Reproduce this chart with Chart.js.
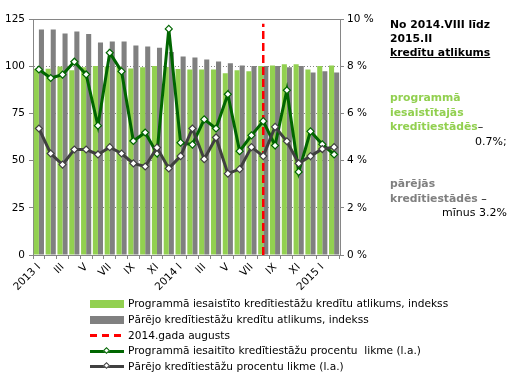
<!DOCTYPE html>
<html>
<head>
<meta charset="utf-8">
<script src="https://cdn.jsdelivr.net/npm/chart.js@4/dist/chart.umd.min.js"></script>
<style>
  html,body{margin:0;padding:0;background:#fff;}
  #wrap{position:relative;width:525px;height:379px;overflow:hidden;}
  #c{position:absolute;left:0;top:0;}
  #legend{position:absolute;left:90px;top:296px;font-family:"DejaVu Sans",sans-serif;font-size:10.6px;color:#000;}
  .row{height:15.75px;line-height:15.75px;white-space:pre;display:flex;align-items:center;}
  .sw{position:relative;width:34px;height:15px;margin-right:4px;flex:none;}
  .sw .bar{position:absolute;left:0;top:3.5px;width:34px;height:8px;}
  .sw .dash{position:absolute;left:0;top:6.5px;width:34px;height:2.5px;background:repeating-linear-gradient(to right,#FF0000 0 7px,transparent 7px 12px);}
  .sw .ln{position:absolute;left:0;top:6px;width:34px;height:3px;}
  .sw .dm{position:absolute;left:14px;top:4px;width:5px;height:5px;background:#fff;transform:rotate(45deg);box-sizing:border-box;border:1px solid;}
  .note{position:absolute;font-family:"DejaVu Sans",sans-serif;white-space:pre;line-height:14px;}
  .b{font-weight:bold;font-size:10.8px;}
  .r{font-size:11px;}
</style>
</head>
<body>
<div id="wrap">
  <canvas id="c" width="525" height="379"></canvas>
  <div id="legend"></div>
  <div class="note b" style="left:390px;top:18px;color:#000;">No 2014.VIII līdz</div>
  <div class="note b" style="left:390px;top:32px;color:#000;">2015.II</div>
  <div class="note b" style="left:390px;top:46px;color:#000;text-decoration:underline;">kredītu atlikums</div>
  <div class="note b" style="left:390px;top:91px;color:#92D050;">programmā</div>
  <div class="note b" style="left:390px;top:105.5px;color:#92D050;">iesaistītajās</div>
  <div class="note b" style="left:390px;top:120px;color:#92D050;">kredītiestādēs<span class="r" style="color:#000;font-weight:normal;">–</span></div>
  <div class="note r" style="left:475px;top:135px;color:#000;">0.7%;</div>
  <div class="note b" style="left:390px;top:177px;color:#808080;">pārējās</div>
  <div class="note b" style="left:390px;top:192px;color:#808080;">kredītiestādēs<span class="r" style="color:#000;font-weight:normal;"> –</span></div>
  <div class="note r" style="left:442px;top:206px;color:#000;">mīnus 3.2%</div>
</div>
<script>
// ---- data ----
const categories = [
  '2013 I','2013 II','2013 III','2013 IV','2013 V','2013 VI','2013 VII','2013 VIII','2013 IX','2013 X','2013 XI','2013 XII',
  '2014 I','2014 II','2014 III','2014 IV','2014 V','2014 VI','2014 VII','2014 VIII','2014 IX','2014 X','2014 XI','2014 XII',
  '2015 I','2015 II'
];
const tickLabels = [
  '2013 I','','III','','V','','VII','','IX','','XI','',
  '2014 I','','III','','V','','VII','','IX','','XI','',
  '2015 I',''
];
const programmeBalance = [98.7, 98.7, 99.9, 97.8, 99.5, 100.1, 99.9, 99.8, 98.8, 99.4, 100.1, 99.6,
                          98.5, 98.3, 98.3, 98.3, 96.2, 97.8, 97.3, 100.1, 100.4, 101.0, 101.0, 98.3,
                          100.1, 100.4];
const otherBalance = [119.4, 119.4, 117.3, 118.4, 117.0, 112.6, 113.1, 113.1, 111.0, 110.5, 109.8, 107.5,
                      105.2, 104.6, 103.6, 102.5, 101.5, 100.4, 100.1, 100.1, 100.1, 99.4, 100.1, 96.7,
                      97.3, 96.7];
const programmeRate = [7.86, 7.50, 7.64, 8.19, 7.65, 5.48, 8.57, 7.78, 4.83, 5.19, 4.30, 9.58,
                       4.76, 4.68, 5.75, 5.36, 6.81, 4.40, 5.07, 5.67, 4.64, 6.98, 3.52, 5.24,
                       4.69, 4.26];
const otherRate = [5.36, 4.30, 3.83, 4.47, 4.47, 4.26, 4.57, 4.30, 3.88, 3.75, 4.55, 3.67,
                   4.19, 5.36, 4.06, 4.98, 3.45, 3.64, 4.57, 4.19, 5.43, 4.82, 3.88, 4.19,
                   4.49, 4.57];
const markerMonth = '2014 VIII';
const markerRange = [0, 122.5];
const leftAxis = {min: 0, max: 125, step: 25};
const rightAxis = {min: 0, max: 10, step: 2};

const seriesNames = [
  'Programmā iesaistīto kredītiestāžu kredītu atlikums, indekss',
  'Pārējo kredītiestāžu kredītu atlikums, indekss',
  '2014.gada augusts',
  'Programmā iesaitīto kredītiestāžu procentu  likme (l.a.)',
  'Pārējo kredītiestāžu procentu likme (l.a.)'
];

const GREEN_BAR = '#92D050', GRAY_BAR = '#808080', RED = '#FF0000', GREEN_LINE = '#006600', GRAY_LINE = '#404040';
const AXIS = '#868686';
const tickFont = {family: 'DejaVu Sans', size: 10.5};

const chart = new Chart(document.getElementById('c'), {
  data: {
    labels: categories,
    datasets: [
      {type: 'bar', label: seriesNames[0], data: programmeBalance, backgroundColor: GREEN_BAR,
       yAxisID: 'y', order: 4, categoryPercentage: 0.86, barPercentage: 1.0},
      {type: 'bar', label: seriesNames[1], data: otherBalance, backgroundColor: GRAY_BAR,
       yAxisID: 'y', order: 5, categoryPercentage: 0.86, barPercentage: 1.0},
      {type: 'line', label: seriesNames[2],
       data: [{x: markerMonth, y: markerRange[0]}, {x: markerMonth, y: markerRange[1]}],
       borderColor: RED, borderWidth: 2.5, borderDash: [8, 4], pointRadius: 0, yAxisID: 'y', order: 3},
      {type: 'line', label: seriesNames[3], data: programmeRate, borderColor: GREEN_LINE, borderWidth: 3,
       pointStyle: 'rectRot', pointRadius: 3.5, pointBackgroundColor: '#fff', pointBorderColor: GREEN_LINE,
       pointBorderWidth: 1.2, yAxisID: 'y1', order: 2, tension: 0},
      {type: 'line', label: seriesNames[4], data: otherRate, borderColor: GRAY_LINE, borderWidth: 3,
       pointStyle: 'rectRot', pointRadius: 3.5, pointBackgroundColor: '#fff', pointBorderColor: GRAY_LINE,
       pointBorderWidth: 1.2, yAxisID: 'y1', order: 1, tension: 0}
    ]
  },
  options: {
    responsive: false,
    animation: false,
    devicePixelRatio: 1,
    layout: {padding: {top: 19, left: 0, right: 0, bottom: 0}},
    plugins: {legend: {display: false}, tooltip: {enabled: false}},
    scales: {
      x: {
        type: 'category',
        offset: true,
        grid: {display: true, drawOnChartArea: false, drawTicks: true, tickLength: 4, color: AXIS, offset: true},
        border: {display: true, color: AXIS, width: 1},
        ticks: {autoSkip: false, maxRotation: 45, minRotation: 45, padding: 2, color: '#000', font: tickFont,
                callback: (v, i) => tickLabels[i]},
        afterFit: s => { s.height = 124; }
      },
      y: {
        position: 'left',
        min: leftAxis.min, max: leftAxis.max,
        grid: {color: AXIS, lineWidth: 1, drawTicks: true, tickLength: 4, tickColor: AXIS, tickBorderDash: []},
        border: {display: true, color: AXIS, dash: ctx => (ctx.tick && ctx.tick.value < leftAxis.max && ctx.tick.value > leftAxis.min) ? [1, 2] : []},
        ticks: {stepSize: leftAxis.step, padding: 4, color: '#000', font: tickFont},
        afterFit: s => { s.width = 33; }
      },
      y1: {
        position: 'right',
        min: rightAxis.min, max: rightAxis.max,
        grid: {drawOnChartArea: false, drawTicks: true, tickLength: 4, color: AXIS},
        border: {display: true, color: AXIS, width: 1},
        ticks: {stepSize: rightAxis.step, padding: 3, color: '#000', font: tickFont, callback: v => v + ' %'},
        afterFit: s => { s.width = 185; }
      }
    }
  }
});

// HTML legend built from the chart's datasets (Excel order)
const legendOrder = [0, 1, 2, 3, 4];
const lg = document.getElementById('legend');
legendOrder.forEach(i => {
  const ds = chart.data.datasets[i];
  const row = document.createElement('div');
  row.className = 'row';
  const sw = document.createElement('div');
  sw.className = 'sw';
  if (ds.type === 'bar') {
    sw.innerHTML = '<div class="bar" style="background:' + ds.backgroundColor + '"></div>';
  } else if (ds.borderDash) {
    sw.innerHTML = '<div class="dash"></div>';
  } else {
    sw.innerHTML = '<div class="ln" style="background:' + ds.borderColor + '"></div>' +
                   '<div class="dm" style="border-color:' + ds.borderColor + '"></div>';
  }
  const t = document.createElement('span');
  t.textContent = ds.label;
  row.appendChild(sw);
  row.appendChild(t);
  lg.appendChild(row);
});
</script>
</body>
</html>
